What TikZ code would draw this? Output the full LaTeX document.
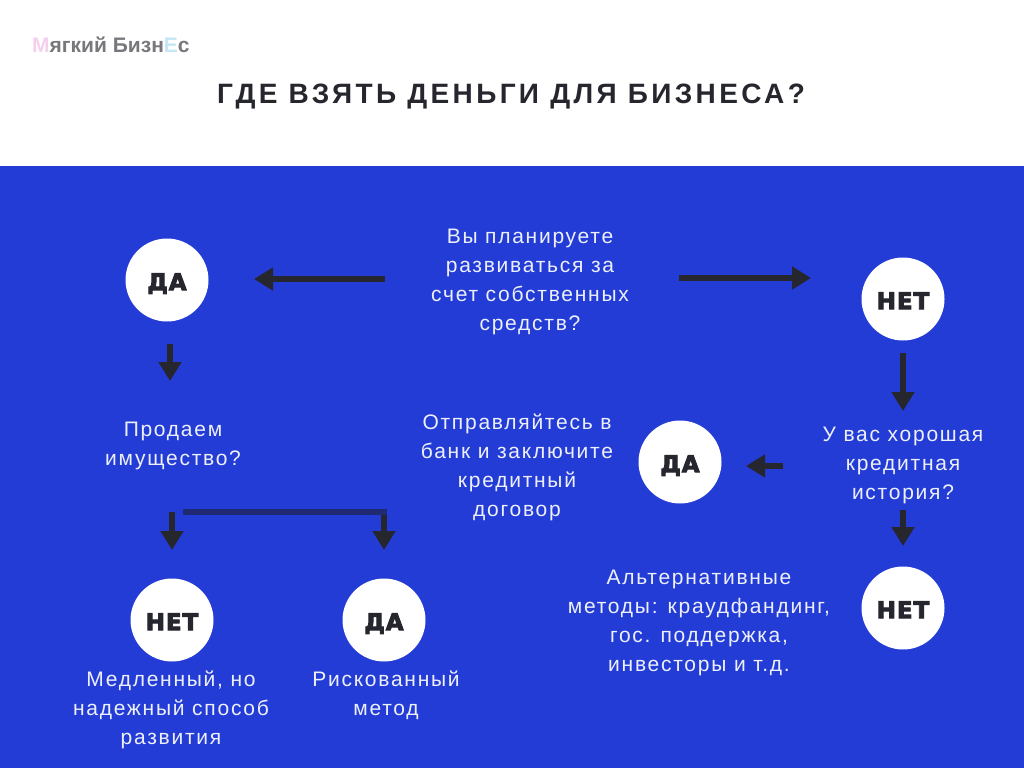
\documentclass[tikz,border=0pt]{standalone}
\usepackage{fontspec}
\usetikzlibrary{arrows.meta}
\setmainfont{Liberation Sans}
\newfontfamily\bodyfont[LetterSpace=8.3]{Liberation Sans}
\newfontfamily\titlefont[LetterSpace=12]{Liberation Sans Bold}
\newfontfamily\logofont{Liberation Sans Bold}
\newfontfamily\badgefont[LetterSpace=4,FakeBold=4]{DejaVu Sans Bold}
\definecolor{bluebg}{HTML}{243CD6}
\definecolor{ink}{HTML}{26262E}
\definecolor{navy}{HTML}{1F2A70}
\definecolor{bodytext}{HTML}{EDF0FA}
\definecolor{logogray}{HTML}{77777C}
\definecolor{logopink}{HTML}{F5CFEE}
\definecolor{logoblue}{HTML}{C5E6F5}
\tikzset{
  x=1pt,y=-1pt,
  badge/.style={circle,fill=white,draw=none,minimum size=83pt,inner sep=0pt,text=ink,text height=20.4pt,text depth=0pt,font=\badgefont\fontsize{23}{23}\selectfont},
  bodylabel/.style={align=center,text=bodytext,inner sep=0pt,font=\bodyfont\fontsize{21}{29}\selectfont},
  flow/.style={draw=ink,line width=6pt,-{Triangle[width=22pt,length=19pt]}},
  bar/.style={draw=navy,line width=6pt}
}
\begin{document}
\begin{tikzpicture}
\useasboundingbox (0,0) rectangle (1024,768);
\fill[white] (0,0) rectangle (1024,768);
\fill[bluebg] (0,166) rectangle (1024,768);
\node[anchor=west,inner sep=0pt,font=\logofont\fontsize{21}{21}\selectfont,text=logogray] (logo) at (32,45) {\textcolor{logopink}{М}ягкий Бизн\textcolor{logoblue}{Е}с};
\node[inner sep=0pt,text=ink,font=\titlefont\fontsize{28}{28}\selectfont] (title) at (511,97) {ГДЕ ВЗЯТЬ ДЕНЬГИ ДЛЯ БИЗНЕСА?};

\node[bodylabel] (q1) at (530,282) {Вы планируете\\развиваться за\\счет собственных\\средств?};
\node[bodylabel] (q2) at (173,445.5) {Продаем\\имущество?};
\node[bodylabel] (bank) at (517,467) {Отправляйтесь в\\банк и заключите\\кредитный\\договор};
\node[bodylabel] (q3) at (903,465) {У вас хорошая\\кредитная\\история?};
\node[bodylabel] (alt) at (699,623) {Альтернативные\\методы: краудфандинг,\\гос. поддержка,\\инвесторы и т.д.};
\node[bodylabel] (slow) at (171,710) {Медленный, но\\надежный способ\\развития};
\node[bodylabel] (risk) at (386,695.5) {Рискованный\\метод};

\node[badge] (da1) at (167,280) {ДА};
\node[badge] (net1) at (903,299) {НЕТ};
\node[badge] (da2) at (680,462) {ДА};
\node[badge] (net2) at (903,608) {НЕТ};
\node[badge] (net3) at (172,620) {НЕТ};
\node[badge] (da3) at (384,620) {ДА};

\coordinate (a1s) at (385,279); \coordinate (a1e) at (254,279);
\coordinate (a2s) at (679,278); \coordinate (a2e) at (811,278);
\coordinate (a3s) at (170,344); \coordinate (a3e) at (170,381);
\coordinate (a4s) at (903,353); \coordinate (a4e) at (903,411);
\coordinate (a5s) at (783,466); \coordinate (a5e) at (746,466);
\coordinate (a6s) at (903,510); \coordinate (a6e) at (903,546);
\coordinate (a7s) at (172,512); \coordinate (a7e) at (172,550);
\coordinate (a8s) at (384,512); \coordinate (a8e) at (384,550);
\coordinate (bs) at (183,512);

\draw[flow] (a1s) -- (a1e);
\draw[flow] (a2s) -- (a2e);
\draw[flow] (a3s) -- (a3e);
\draw[flow] (a4s) -- (a4e);
\draw[flow] (a5s) -- (a5e);
\draw[flow] (a6s) -- (a6e);
\draw[flow] (a7s) -- (a7e);
\draw[flow] (a8s) -- (a8e);
\draw[bar] (bs) -- ([xshift=3pt]a8s);
\end{tikzpicture}
\end{document}
